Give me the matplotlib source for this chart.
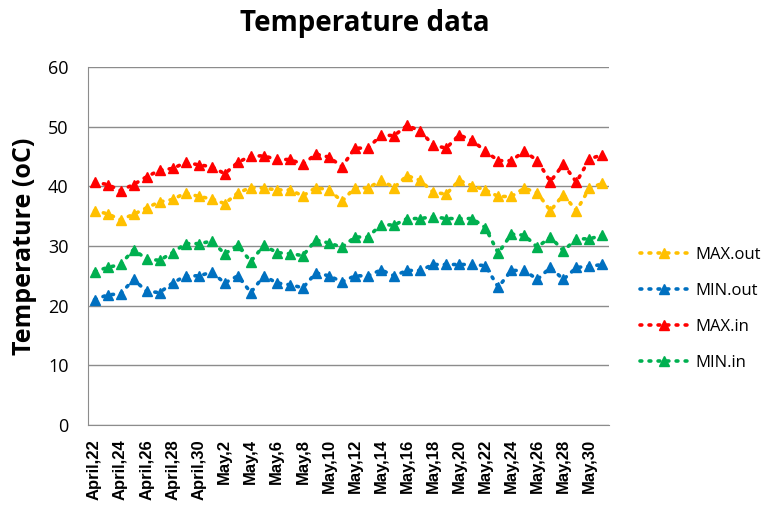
import numpy as np
import matplotlib.pyplot as plt

# dates: April 22 .. May 31
days = ["April,%d" % d for d in range(22, 31)] + ["May,%d" % d for d in range(1, 32)]

# temperatures [oC]
max_out = [35.9, 35.4, 34.4, 35.3, 36.4, 37.4, 37.8, 38.9, 38.3, 37.9,
           37.1, 38.9, 39.8, 39.7, 39.4, 39.4, 38.4, 39.8, 39.4, 37.5,
           39.8, 39.7, 41.0, 39.8, 41.8, 41.0, 39.0, 38.7, 41.0, 40.1,
           39.4, 38.3, 38.3, 39.7, 38.9, 35.9, 38.6, 35.9, 39.7, 40.5]
min_out = [21.0, 21.8, 22.0, 24.4, 22.4, 22.2, 23.8, 25.0, 25.0, 25.6,
           23.8, 25.0, 22.2, 25.0, 23.8, 23.5, 23.0, 25.5, 25.0, 24.0,
           25.0, 25.0, 26.0, 25.0, 25.9, 25.9, 26.9, 26.9, 26.9, 26.9,
           26.7, 23.1, 25.9, 25.9, 24.4, 26.4, 24.4, 26.4, 26.6, 26.9]
max_in = [40.7, 40.3, 39.3, 40.3, 41.6, 42.7, 43.0, 44.0, 43.6, 43.3,
          42.1, 44.0, 45.1, 45.1, 44.5, 44.5, 43.7, 45.4, 44.9, 43.3,
          46.4, 46.4, 48.6, 48.5, 50.2, 49.3, 46.9, 46.4, 48.6, 47.7,
          45.9, 44.3, 44.3, 45.9, 44.3, 40.8, 43.7, 40.7, 44.6, 45.3]
min_in = [25.7, 26.4, 26.9, 29.4, 27.8, 27.6, 28.9, 30.4, 30.4, 30.8,
          28.7, 30.1, 27.4, 30.1, 28.9, 28.7, 28.4, 31.0, 30.5, 29.8,
          31.5, 31.5, 33.6, 33.5, 34.6, 34.6, 34.9, 34.6, 34.6, 34.6,
          33.1, 28.8, 32.0, 31.8, 29.8, 31.5, 29.2, 31.2, 31.2, 31.8]

series = [("MAX.out", max_out, "#FFC000"),
          ("MIN.out", min_out, "#0070C0"),
          ("MAX.in", max_in, "#FF0000"),
          ("MIN.in", min_in, "#00B050")]

fig = plt.figure(figsize=(7.7, 5.07), dpi=100)
ax = fig.add_axes([88/770, 1 - 425/507, (609-88)/770, (425-67)/507])

x = np.arange(len(days))
for name, vals, col in series:
    ax.plot(x, vals, color=col, linestyle=(0, (0.5, 2.0)), linewidth=2.6,
            dash_capstyle='round', marker='^', markersize=7,
            markeredgecolor=col, markerfacecolor=col, label=name)

ax.set_xlim(-0.5, len(days) - 0.5)
ax.set_ylim(0, 60)
ax.set_yticks(range(0, 61, 10))
ax.set_xticks(x[::2])
ax.set_xticklabels(days[::2], rotation=90, fontsize=12, fontweight='bold',
                   family='Liberation Sans')
for t in ax.get_yticklabels():
    t.set_family('Open Sans')
    t.set_fontsize(13)
ax.tick_params(axis='x', length=0, pad=10)
ax.tick_params(axis='y', length=0, pad=14)

ax.grid(axis='y', color='#8c8c8c', linewidth=1)
ax.set_axisbelow(True)
for s in ['top', 'right']:
    ax.spines[s].set_visible(False)
ax.spines['left'].set_color('#8c8c8c')
ax.spines['bottom'].set_color('#8c8c8c')

ax.set_ylabel("Temperature (oC)", fontsize=18, fontweight='bold',
              family='Open Sans', labelpad=8)
fig.text(365/770, 1 - 24/507, "Temperature data", ha='center', va='center',
         fontsize=20, fontweight='bold', family='Open Sans')

ax.legend(loc='center left', bbox_to_anchor=(625/770, 1 - 309/507),
          bbox_transform=fig.transFigure, frameon=False,
          prop={'family': 'Open Sans', 'size': 12},
          handlelength=2.9, labelspacing=1.2, handletextpad=0.4)

fig.savefig("out.png", dpi=100)
